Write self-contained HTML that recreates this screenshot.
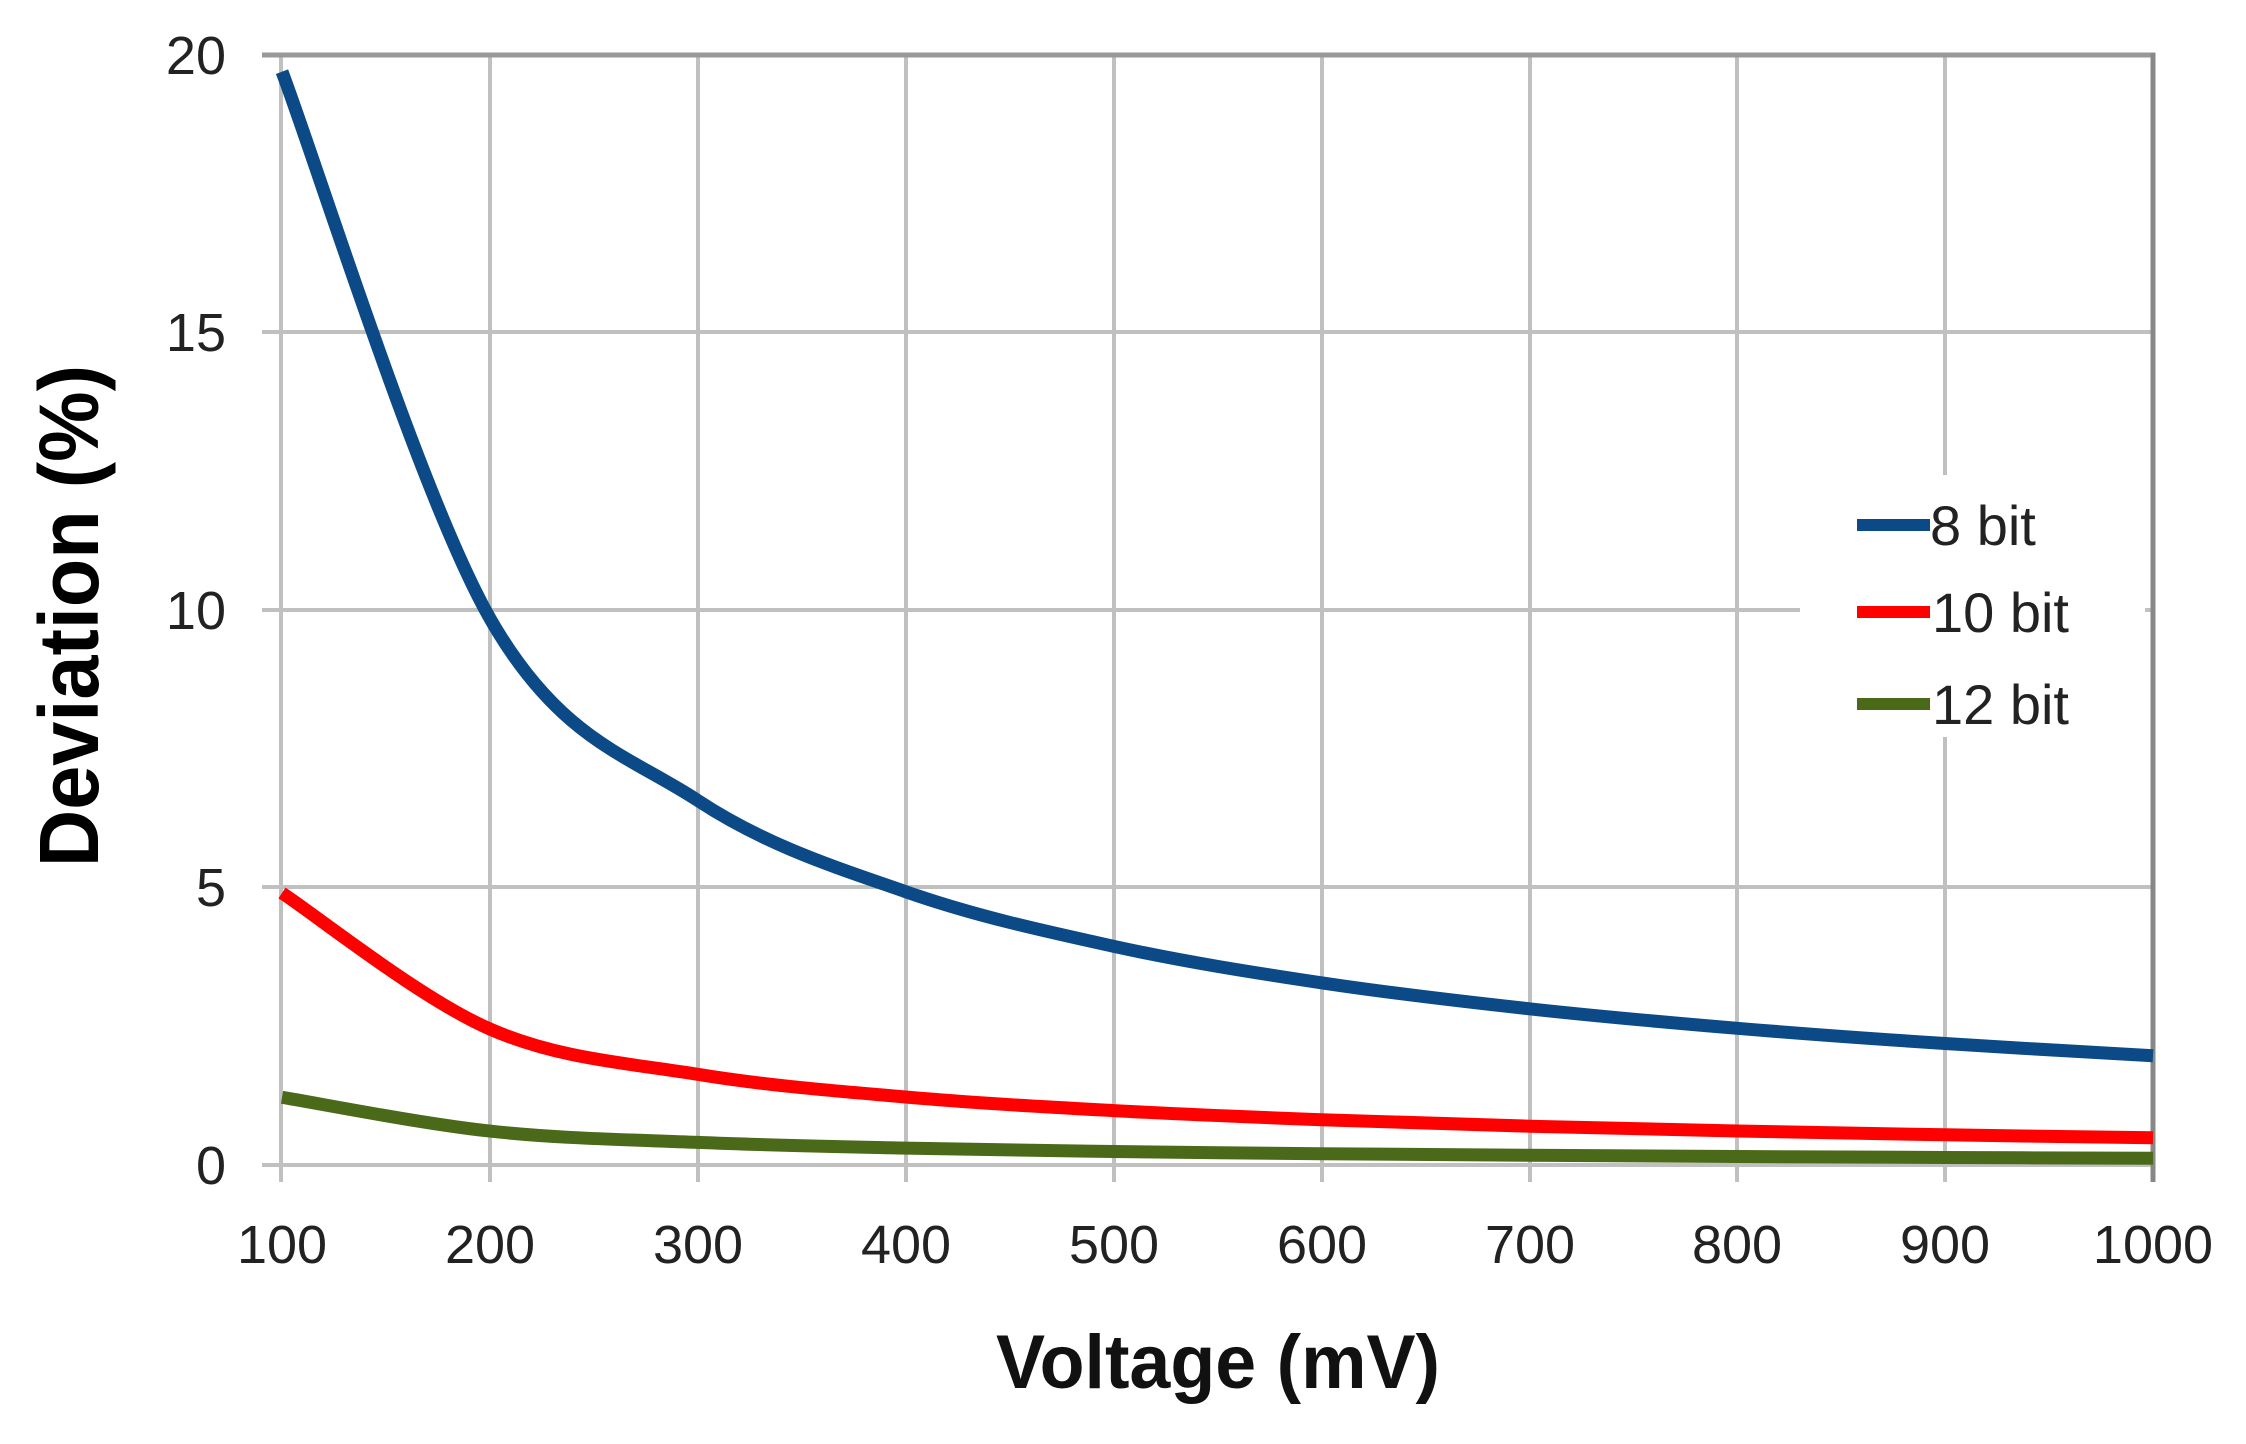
<!DOCTYPE html>
<html><head><meta charset="utf-8"><style>html,body{margin:0;padding:0;background:#fff}svg{display:block}</style></head>
<body>
<svg width="2246" height="1444" viewBox="0 0 2246 1444" xmlns="http://www.w3.org/2000/svg">
<rect width="2246" height="1444" fill="#fff"/>
<g stroke="#c0c0c0" stroke-width="4">
<line x1="490" y1="55" x2="490" y2="1182"/>
<line x1="698" y1="55" x2="698" y2="1182"/>
<line x1="906" y1="55" x2="906" y2="1182"/>
<line x1="1114" y1="55" x2="1114" y2="1182"/>
<line x1="1322" y1="55" x2="1322" y2="1182"/>
<line x1="1530" y1="55" x2="1530" y2="1182"/>
<line x1="1737" y1="55" x2="1737" y2="1182"/>
<line x1="1945" y1="55" x2="1945" y2="1182"/>
<line x1="262" y1="332" x2="2153" y2="332"/>
<line x1="262" y1="610" x2="2153" y2="610"/>
<line x1="262" y1="887" x2="2153" y2="887"/>
<line x1="262" y1="1165" x2="2153" y2="1165"/>
<line x1="281" y1="55" x2="281" y2="1182"/>
</g>
<line x1="262" y1="55" x2="2155" y2="55" stroke="#999" stroke-width="5"/>
<line x1="2153" y1="53" x2="2153" y2="1182" stroke="#888" stroke-width="5"/>
<rect x="1800" y="475" width="345" height="262" fill="#fff"/>
<g fill="none" stroke-width="13" stroke-linejoin="round" stroke-linecap="butt">
<path id="b" stroke="#0b4a86" d=""/>
<path id="r" stroke="#ff0000" d=""/>
<path id="g" stroke="#4a6a1a" d=""/>
</g>
<g stroke-width="12">
<line x1="1857" y1="525" x2="1930" y2="525" stroke="#0b4a86"/>
<line x1="1857" y1="612" x2="1930" y2="612" stroke="#ff0000"/>
<line x1="1857" y1="704" x2="1930" y2="704" stroke="#4a6a1a"/>
</g>
<g font-family="Liberation Sans, sans-serif" font-size="56" fill="#222">
<text x="1930" y="545">8 bit</text>
<text x="1932" y="632">10 bit</text>
<text x="1932" y="724">12 bit</text>
</g>
<g font-family="Liberation Sans, sans-serif" font-size="54" fill="#222" text-anchor="end">
<text x="226" y="74">20</text>
<text x="226" y="351">15</text>
<text x="226" y="629">10</text>
<text x="226" y="906">5</text>
<text x="226" y="1184">0</text>
</g>
<g font-family="Liberation Sans, sans-serif" font-size="54" fill="#222" text-anchor="middle">
<text x="282" y="1263">100</text><text x="490" y="1263">200</text><text x="698" y="1263">300</text>
<text x="906" y="1263">400</text><text x="1114" y="1263">500</text><text x="1322" y="1263">600</text>
<text x="1530" y="1263">700</text><text x="1737" y="1263">800</text><text x="1945" y="1263">900</text>
<text x="2153" y="1263">1000</text>
</g>
<text x="996" y="1388" font-family="Liberation Sans, sans-serif" font-weight="bold" font-size="76" fill="#111" textLength="444" lengthAdjust="spacingAndGlyphs">Voltage (mV)</text>
<text transform="translate(98,867) rotate(-90)" font-family="Liberation Sans, sans-serif" font-weight="bold" font-size="84" fill="#000" textLength="502" lengthAdjust="spacingAndGlyphs">Deviation (%)</text>
</svg>
<script>
function mk(k){
 var vs=[100,200,300,400,500,600,700,800,900,1000];
 var P=vs.map(function(v){return [282+(v-100)*(2153-282)/900, 1165-(k/v)*277.5/5];});
 var d="M"+P[0][0].toFixed(1)+" "+P[0][1].toFixed(1);
 var n=P.length;
 for(var i=0;i+1!==n;i++){
  var p0=P[Math.max(0,i-1)],p1=P[i],p2=P[i+1],p3=P[Math.min(n-1,i+2)];
  var s=1/6;
  var c1=[p1[0]+(p2[0]-p0[0])*s,p1[1]+(p2[1]-p0[1])*s];
  var c2=[p2[0]-(p3[0]-p1[0])*s,p2[1]-(p3[1]-p1[1])*s];
  d+=" C"+c1[0].toFixed(1)+" "+c1[1].toFixed(1)+" "+c2[0].toFixed(1)+" "+c2[1].toFixed(1)+" "+p2[0].toFixed(1)+" "+p2[1].toFixed(1);
 }
 return d;}
document.getElementById("b").setAttribute("d",mk(1970));
document.getElementById("r").setAttribute("d",mk(490));
document.getElementById("g").setAttribute("d",mk(122));
</script>
</body></html>
